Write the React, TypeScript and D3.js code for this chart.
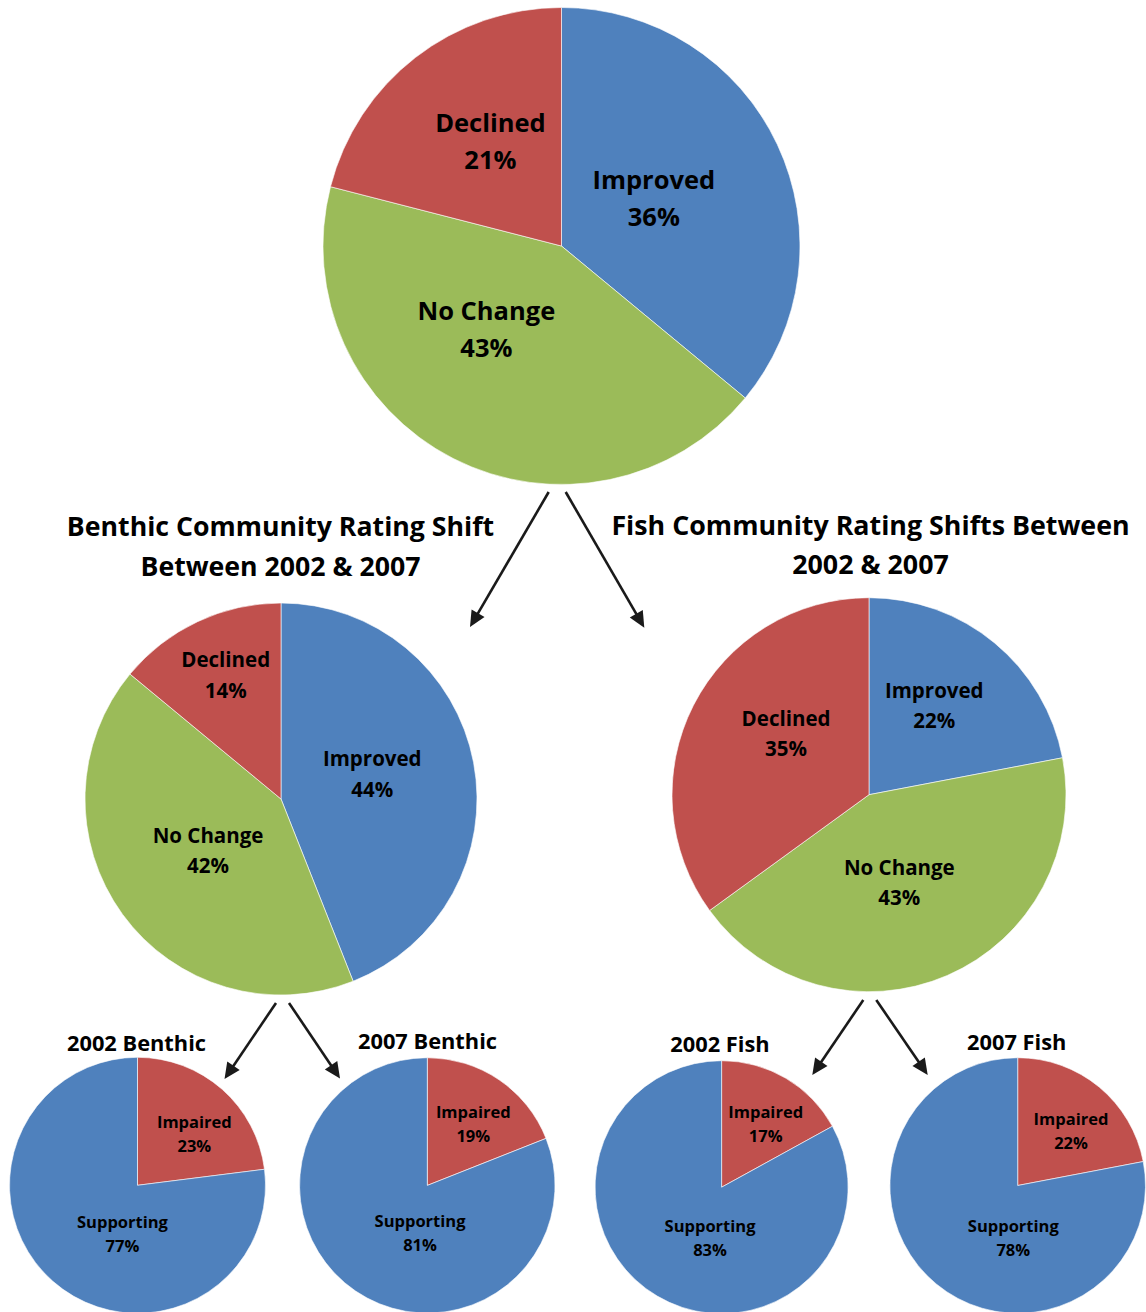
import React from "react";
import * as d3 from "d3";

// ---------- DATA ----------
const changeCategories = ["Improved", "No Change", "Declined"];
const overallValues = [36, 43, 21];
const benthicShiftValues = [44, 42, 14];
const fishShiftValues = [22, 43, 35];

const statusCategories = ["Impaired", "Supporting"];
const benthic2002Values = [23, 77];
const benthic2007Values = [19, 81];
const fish2002Values = [17, 83];
const fish2007Values = [22, 78];

const benthicTitleLines = ["Benthic Community Rating Shift", "Between 2002 & 2007"];
const fishTitleLines = ["Fish Community Rating Shifts Between", "2002 & 2007"];
const smallTitles = ["2002 Benthic", "2007 Benthic", "2002 Fish", "2007 Fish"];

// ---------- STYLE / LAYOUT ----------
const FONT = "'Open Sans', 'Noto Sans', sans-serif";
const BLUE = "#4F81BD";
const RED = "#C0504D";
const GREEN = "#9BBB59";
const changeColor = d3.scaleOrdinal<string, string>().domain(changeCategories).range([BLUE, GREEN, RED]);
const statusColor = d3.scaleOrdinal<string, string>().domain(statusCategories).range([RED, BLUE]);

type PieSpec = {
  key: string;
  cats: string[];
  values: number[];
  color: (c: string) => string;
  cx: number;
  cy: number;
  r: number;
  fs: number;
  lh: number;
  nudges: [number, number][];
  title?: string;
  titleY?: number;
  titleX?: number;
};

const pies: PieSpec[] = [
  { key: "overall", cats: changeCategories, values: overallValues, color: changeColor,
    cx: 561.5, cy: 246, r: 238.5, fs: 25.5, lh: 37.5,
    nudges: [[-15.6, 3.4], [-21, -23], [2, -10.5]] },
  { key: "benthic", cats: changeCategories, values: benthicShiftValues, color: changeColor,
    cx: 281, cy: 799, r: 196, fs: 20.5, lh: 30.5,
    nudges: [[-5, -6.5], [6.3, -6], [-13.6, -35.3]] },
  { key: "fish", cats: changeCategories, values: fishShiftValues, color: changeColor,
    cx: 869, cy: 794.7, r: 197, fs: 20.5, lh: 30.5,
    nudges: [[2.5, -12.9], [-8.8, -2.6], [4.8, -16.1]] },
  { key: "b2002", cats: statusCategories, values: benthic2002Values, color: statusColor,
    cx: 137.5, cy: 1185.3, r: 128, fs: 16.5, lh: 24,
    nudges: [[14.5, -3.3], [27.3, 1.2]], title: smallTitles[0], titleX: 136.5, titleY: 1050.5 },
  { key: "b2007", cats: statusCategories, values: benthic2007Values, color: statusColor,
    cx: 427.3, cy: 1185.4, r: 127.7, fs: 16.5, lh: 24,
    nudges: [[10.1, -8.6], [28.6, -5]], title: smallTitles[1], titleX: 427.5, titleY: 1048.5 },
  { key: "f2002", cats: statusCategories, values: fish2002Values, color: statusColor,
    cx: 721.6, cy: 1187.2, r: 126.5, fs: 16.5, lh: 24,
    nudges: [[11.9, -8.8], [20.6, -3.6]], title: smallTitles[2], titleX: 720, titleY: 1051.5 },
  { key: "f2007", cats: statusCategories, values: fish2007Values, color: statusColor,
    cx: 1017.7, cy: 1185.5, r: 127.8, fs: 16.5, lh: 24,
    nudges: [[12.6, -5.3], [36.3, 3.3]], title: smallTitles[3], titleX: 1016.7, titleY: 1050 },
];

const arrows: [number, number, number, number][] = [
  [548.7, 492, 470, 627],
  [565.7, 492, 644.3, 627.7],
  [276, 1003, 224.5, 1079],
  [289, 1003, 340, 1078.5],
  [863.3, 1000, 812.3, 1075],
  [876.3, 1000, 927.7, 1075],
];

function Pie({ spec }: { spec: PieSpec }) {
  const pie = d3.pie<number>().sort(null).value((d) => d);
  const arcs = pie(spec.values);
  const arc = d3.arc<d3.PieArcDatum<number>>().innerRadius(0).outerRadius(spec.r);
  const cap = spec.fs * 0.714;
  return (
    <g>
      <g transform={`translate(${spec.cx},${spec.cy})`}>
        {arcs.map((a, i) => (
          <path key={i} d={arc(a) || ""} fill={spec.color(spec.cats[i])} stroke="#ffffff" strokeWidth={0.6} />
        ))}
        {arcs.map((a, i) => {
          const [x0, y0] = arc.centroid(a);
          const x = x0 + spec.nudges[i][0];
          const y = y0 + spec.nudges[i][1];
          return (
            <text key={"t" + i} textAnchor="middle" fontFamily={FONT} fontWeight={700} fontSize={spec.fs} fill="#000">
              <tspan x={x} y={y - spec.lh / 2 + cap / 2}>{spec.cats[i]}</tspan>
              <tspan x={x} y={y + spec.lh / 2 + cap / 2}>{`${spec.values[i]}%`}</tspan>
            </text>
          );
        })}
      </g>
      {spec.title && (
        <text x={spec.titleX} y={spec.titleY} textAnchor="middle" fontFamily={FONT} fontWeight={700} fontSize={21.8} fill="#000">
          {spec.title}
        </text>
      )}
    </g>
  );
}

function Arrow({ a }: { a: [number, number, number, number] }) {
  const [x1, y1, x2, y2] = a;
  const dx = x2 - x1, dy = y2 - y1;
  const len = Math.hypot(dx, dy);
  const ux = dx / len, uy = dy / len;
  const hl = 16, hw = 7.5;
  const bx = x2 - ux * hl, by = y2 - uy * hl;
  const px = -uy, py = ux;
  const head = `M${x2},${y2}L${bx + px * hw},${by + py * hw}L${bx - px * hw},${by - py * hw}Z`;
  return (
    <g>
      <line x1={x1} y1={y1} x2={bx + ux * 2} y2={by + uy * 2} stroke="#1a1a1a" strokeWidth={2.6} />
      <path d={head} fill="#1a1a1a" />
    </g>
  );
}

export default function App() {
  return (
    <svg width={1146} height={1312} style={{ position: "absolute", left: 0, top: 0, background: "#fff" }}>
      <rect width={1146} height={1312} fill="#fff" />
      {pies.map((p) => (
        <Pie key={p.key} spec={p} />
      ))}
      {arrows.map((a, i) => (
        <Arrow key={i} a={a} />
      ))}
      <text textAnchor="middle" fontFamily={FONT} fontWeight={700} fontSize={26.7} fill="#000">
        <tspan x={280.5} y={535.5}>{benthicTitleLines[0]}</tspan>
        <tspan x={280.5} y={575.5}>{benthicTitleLines[1]}</tspan>
      </text>
      <text textAnchor="middle" fontFamily={FONT} fontWeight={700} fontSize={26.8} fill="#000">
        <tspan x={870.5} y={535}>{fishTitleLines[0]}</tspan>
        <tspan x={870.5} y={574}>{fishTitleLines[1]}</tspan>
      </text>
    </svg>
  );
}
